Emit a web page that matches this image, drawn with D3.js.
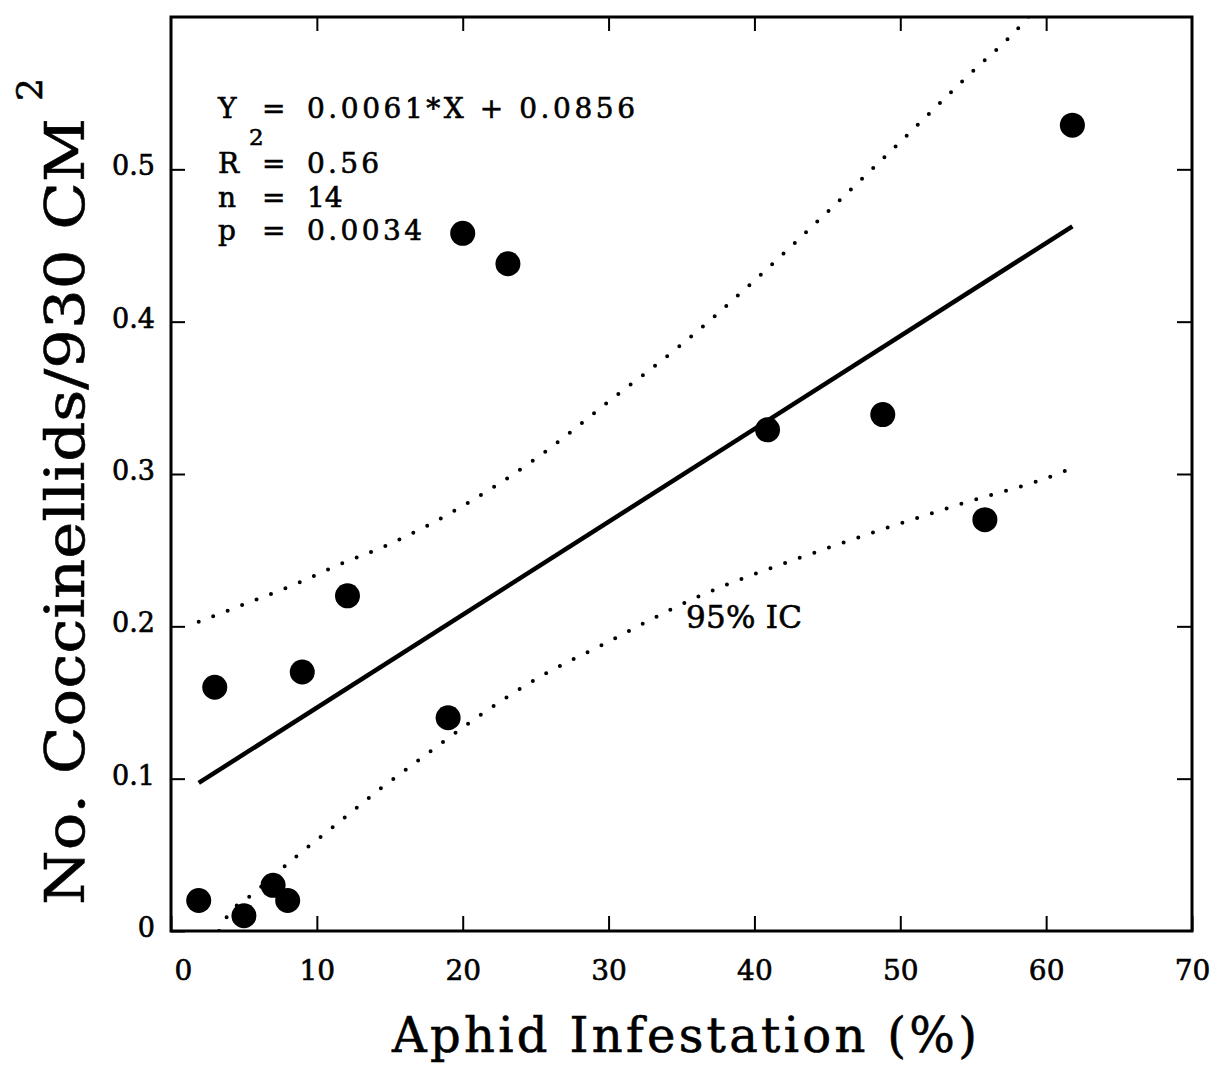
<!DOCTYPE html>
<html>
<head>
<meta charset="utf-8">
<script src="https://cdn.jsdelivr.net/npm/d3@7"></script>
<style>
  body { margin: 0; background: #fff; }
  svg { display: block; background: #fff; }
  text { stroke: #000; stroke-width: 0.6px; }
</style>
</head>
<body>
<div id="container"></div>
<script>
/* DATA */
// points
const infestation = [1.9, 3.0, 5.0, 7.0, 8.0, 9.0, 12.1, 19.0, 20.0, 23.1, 40.9, 48.8, 55.8, 61.8];
const coccinellids = [0.02, 0.16, 0.01, 0.03, 0.02, 0.17, 0.22, 0.14, 0.458, 0.438, 0.329, 0.339, 0.27, 0.529];

// 95% band
const upperX = [1.9, 5.7, 8.6, 11.4, 15, 20, 25, 30.2, 35, 40, 45, 50, 54.7, 58.5, 60];
const upperY = [0.203, 0.217, 0.228, 0.240, 0.254, 0.279, 0.310, 0.349, 0.385, 0.427, 0.472, 0.518, 0.562, 0.597, 0.615];
const lowerX = [3.3, 3.75, 5.7, 8.6, 11.4, 14.3, 17.1, 20.8, 25.5, 29.4, 35.8, 45.2, 53.7, 61.3, 61.8];
const lowerY = [0, 0.008, 0.025, 0.049, 0.0705, 0.093, 0.113, 0.139, 0.168, 0.187, 0.218, 0.252, 0.279, 0.302, 0.304];

// fitted line as printed on the chart
const slope = 0.0061;
const intercept = 0.0856;

const xTicks = [0, 10, 20, 30, 40, 50, 60, 70];
const yTicks = [0, 0.1, 0.2, 0.3, 0.4, 0.5];
const yTickLabels = ["0", "0.1", "0.2", "0.3", "0.4", "0.5"];

const statLabels = ["Y", "R", "n", "p"];
const statValues = ["0.0061*X + 0.0856", "0.56", "14", "0.0034"];
const xTitle = "Aphid Infestation (%)";
const yTitle = "No. Coccinellids/930 CM";
const ciLabel = "95% IC";

/* CONSTANTS */
const width = 1217, height = 1066;
const mLeft = 171, mRight = 1192, mTop = 17, mBottom = 931;
const serif = "'DejaVu Serif', serif";

/* SCALES */
const xScale = d3.scaleLinear().domain([0, 70]).range([mLeft, mRight]);
const yScale = d3.scaleLinear().domain([0, 0.6]).range([mBottom, mTop]);

const svg = d3.select("#container")
  .append("svg")
  .attr("width", width)
  .attr("height", height);

svg.append("defs").append("clipPath")
  .attr("id", "plot")
  .append("rect")
  .attr("x", mLeft).attr("y", mTop)
  .attr("width", mRight - mLeft).attr("height", mBottom - mTop);

/* AXES */
const fmtY = d => yTickLabels[yTicks.indexOf(d)];

const gLeft = svg.append("g")
  .attr("transform", `translate(${mLeft},0)`)
  .call(d3.axisLeft(yScale).tickValues(yTicks).tickSize(-14).tickPadding(16).tickFormat(fmtY));
const gRight = svg.append("g")
  .attr("transform", `translate(${mRight},0)`)
  .call(d3.axisRight(yScale).tickValues(yTicks.slice(1)).tickSize(-15).tickFormat(""));
const gBottom = svg.append("g")
  .attr("transform", `translate(0,${mBottom})`)
  .call(d3.axisBottom(xScale).tickValues(xTicks).tickSize(-15).tickPadding(29));
const gTop = svg.append("g")
  .attr("transform", `translate(0,${mTop})`)
  .call(d3.axisTop(xScale).tickValues(xTicks.slice(1, -1)).tickSize(-14).tickFormat(""));

[gLeft, gRight, gBottom, gTop].forEach(g => {
  g.select(".domain").remove();
  g.selectAll(".tick line").attr("stroke", "#000").attr("stroke-width", 2);
  g.selectAll("text")
    .attr("fill", "#000")
    .style("font-family", serif)
    .style("font-size", "27px");
});
gLeft.selectAll("text").attr("dy", "0.2em");
gBottom.selectAll("text").style("font-size", "28px");
gBottom.selectAll(".tick text").filter(d => d === 0).attr("dx", 12);

// frame
svg.append("rect")
  .attr("x", mLeft).attr("y", mTop)
  .attr("width", mRight - mLeft).attr("height", mBottom - mTop)
  .attr("fill", "none")
  .attr("stroke", "#000")
  .attr("stroke-width", 3);

/* MARKS */
const plot = svg.append("g").attr("clip-path", "url(#plot)");

const band = d3.line()
  .x(d => xScale(d[0]))
  .y(d => yScale(d[1]))
  .curve(d3.curveMonotoneX);

[d3.zip(upperX, upperY), d3.zip(lowerX, lowerY)].forEach(pts => {
  plot.append("path")
    .attr("d", band(pts))
    .attr("fill", "none")
    .attr("stroke", "#000")
    .attr("stroke-width", 4)
    .attr("stroke-linecap", "round")
    .attr("stroke-dasharray", "0 15.5");
});

const [x0, x1] = d3.extent(infestation);
plot.append("path")
  .attr("d", d3.line()([[xScale(x0), yScale(slope * x0 + intercept)], [xScale(x1), yScale(slope * x1 + intercept)]]))
  .attr("stroke", "#000")
  .attr("stroke-width", 4.5)
  .attr("fill", "none");

svg.append("g")
  .selectAll("circle")
  .data(d3.zip(infestation, coccinellids))
  .join("circle")
  .attr("cx", d => xScale(d[0]))
  .attr("cy", d => yScale(d[1]))
  .attr("r", 12.5)
  .attr("fill", "#000");

/* TEXT */
const statBase = [118, 173, 207, 240];
const statLen = [328, 72, null, 115];
const stats = svg.append("g")
  .style("font-family", serif)
  .style("font-size", "28px")
  .attr("fill", "#000");

statLabels.forEach((lab, i) => {
  stats.append("text").attr("x", 218).attr("y", statBase[i]).text(lab);
  stats.append("text").attr("x", 262).attr("y", statBase[i]).text("=");
  const t = stats.append("text").attr("x", 307).attr("y", statBase[i]).text(statValues[i]);
  if (statLen[i]) t.attr("textLength", statLen[i]).attr("lengthAdjust", "spacing");
});
stats.append("text")
  .attr("x", 249).attr("y", 145)
  .style("font-size", "23px")
  .text("2");

svg.append("text")
  .attr("x", 686).attr("y", 628)
  .style("font-family", serif)
  .style("font-size", "31px")
  .attr("textLength", 116)
  .attr("lengthAdjust", "spacing")
  .text(ciLabel);

svg.append("text")
  .attr("x", 392).attr("y", 1052)
  .style("font-family", serif)
  .style("font-size", "48px")
  .attr("textLength", 585)
  .attr("lengthAdjust", "spacing")
  .text(xTitle);

svg.append("text")
  .attr("transform", "translate(84,905) rotate(-90)")
  .style("font-family", serif)
  .style("font-size", "55px")
  .attr("textLength", 787)
  .attr("lengthAdjust", "spacingAndGlyphs")
  .text(yTitle);
svg.append("text")
  .attr("transform", "translate(42,101) rotate(-90)")
  .style("font-family", serif)
  .style("font-size", "36px")
  .text("2");
</script>
</body>
</html>
